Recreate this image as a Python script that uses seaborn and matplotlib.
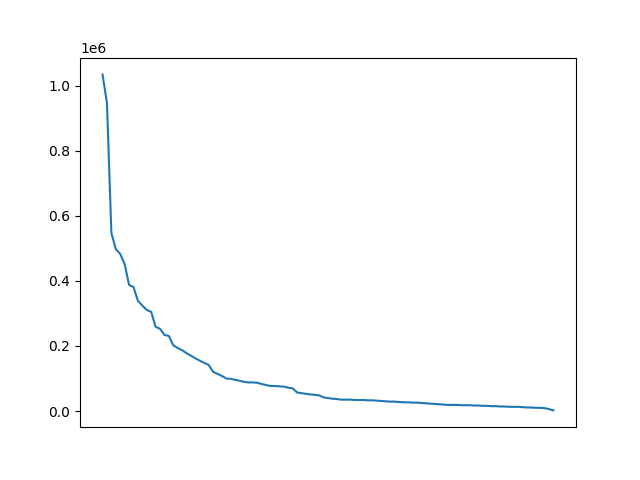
import numpy as np
import pandas as pd
import seaborn as sns
from matplotlib import pyplot as plt

# values, largest first
counts = [
    1035000, 947000, 547000, 498000, 483000, 452000, 388000, 381000, 339000, 324000,
    311000, 305000, 259000, 253000, 234000, 231000, 202000, 194000, 187000, 178000,
    170000, 162000, 155000, 148000, 142000, 121000, 114000, 108000, 100000, 99000,
    96000, 93000, 90000, 88000, 88000, 87000, 83000, 80000, 77000, 77000,
    76000, 75000, 72000, 70000, 57000, 55000, 53000, 51000, 50000, 48000,
    42000, 40000, 38000, 37000, 35000, 35000, 35000, 34000, 34000, 34000,
    33000, 33000, 32000, 31000, 30000, 29000, 29000, 28000, 27000, 27000,
    26000, 26000, 25000, 24000, 23000, 22000, 21000, 20000, 19000, 19000,
    19000, 18000, 18000, 18000, 17000, 17000, 16000, 16000, 15000, 15000,
    14000, 14000, 13000, 13000, 13000, 12000, 11000, 11000, 10000, 10000,
    9000, 6000, 2000,
]
rank = list(range(len(counts)))

df = pd.DataFrame({'rank': rank, 'count': counts})

fig, ax = plt.subplots(figsize=(6.4, 4.8), dpi=100)
sns.lineplot(data=df, x='rank', y='count', ax=ax, color='#1f77b4')

ax.set_xticks([])
ax.set_xlabel('')
ax.set_ylabel('')

plt.savefig('out.png', dpi=100)
